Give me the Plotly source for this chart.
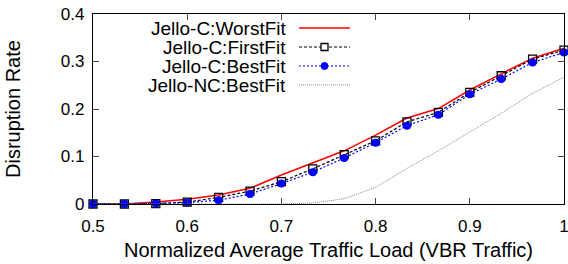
import plotly.graph_objects as go

load = [0.5 + i / 30 for i in range(16)]
worst_fit = [0, 0, 0.004, 0.010, 0.019, 0.033, 0.061, 0.086, 0.112, 0.145, 0.181, 0.201, 0.240, 0.274, 0.307, 0.328]
first_fit = [0, 0, 0.001, 0.004, 0.014, 0.027, 0.047, 0.074, 0.104, 0.133, 0.173, 0.193, 0.235, 0.270, 0.305, 0.324]
best_fit = [0, 0, 0.001, 0.003, 0.008, 0.021, 0.043, 0.067, 0.097, 0.129, 0.165, 0.188, 0.231, 0.263, 0.298, 0.319]
nc_best_fit = [0, 0, 0, 0, 0, 0, 0, 0.002, 0.011, 0.035, 0.075, 0.112, 0.152, 0.191, 0.233, 0.267]
names = ["Jello-C:WorstFit", "Jello-C:FirstFit", "Jello-C:BestFit", "Jello-NC:BestFit"]

FONT = "Liberation Sans, Arial, Helvetica, sans-serif"

fig = go.Figure()
fig.add_trace(go.Scatter(x=load, y=worst_fit, mode="lines", line=dict(color="#ff0000", width=1.5), name=names[0], cliponaxis=False))
fig.add_trace(go.Scatter(x=load, y=first_fit, mode="lines+markers", line=dict(color="black", width=1.2, dash="3px,2px"),
                         marker=dict(symbol="square-open", size=8, color="black", line=dict(width=1.3)), name=names[1], cliponaxis=False))
fig.add_trace(go.Scatter(x=load, y=best_fit, mode="lines+markers", line=dict(color="#0000ff", width=1.2, dash="2px,2px"),
                         marker=dict(symbol="circle", size=8, color="#0000ff"), name=names[2], cliponaxis=False))
fig.add_trace(go.Scatter(x=load, y=nc_best_fit, mode="lines", line=dict(color="#888888", width=1, dash="1px,1px"), name=names[3], cliponaxis=False))

# custom gnuplot-style legend (text left of sample)
styles = [
    dict(color="#ff0000", width=1.5, dash="solid"),
    dict(color="black", width=1.2, dash="3px,2px"),
    dict(color="#0000ff", width=1.2, dash="2px,2px"),
    dict(color="#888888", width=1, dash="1px,1px"),
]
row_y = [28, 47, 66, 85]
plot_top, plot_h = 14, 190
plot_left, plot_w = 93, 471
def px_x(p):
    return (p - plot_left) / plot_w
def px_y(p):
    return 1 - (p - plot_top) / plot_h
for name, st, ry in zip(names, styles, row_y):
    fig.add_annotation(x=px_x(288), y=px_y(ry), xref="paper", yref="paper", text=name, showarrow=False,
                       xanchor="right", yanchor="middle", font=dict(family=FONT, size=19, color="black"))
    fig.add_shape(type="line", xref="paper", yref="paper", x0=px_x(299), x1=px_x(350), y0=px_y(ry), y1=px_y(ry), line=st)
# legend markers
fig.add_shape(type="rect", xref="paper", yref="paper", x0=px_x(321), x1=px_x(328), y0=px_y(43.5), y1=px_y(50.5),
              line=dict(color="black", width=1.3), fillcolor="white")
fig.add_shape(type="circle", xref="paper", yref="paper", x0=px_x(321), x1=px_x(328), y0=px_y(62.5), y1=px_y(69.5),
              line=dict(color="#0000ff", width=1), fillcolor="#0000ff")

fig.update_layout(
    width=568, height=264,
    margin=dict(l=93, r=4, t=14, b=60),
    paper_bgcolor="white", plot_bgcolor="white",
    showlegend=False,
    font=dict(family=FONT, size=17, color="black"),
)
fig.update_xaxes(range=[0.5, 1.0], dtick=0.1, tick0=0.5, ticks="inside", ticklen=6, mirror="ticks",
                 showline=True, linecolor="black", linewidth=1.2, showgrid=False, zeroline=False,
                 automargin=False, tickfont=dict(size=17), ticklabelstandoff=6, ticklabeloverflow="allow",
                 title=dict(text="Normalized Average Traffic Load (VBR Traffic)", standoff=8))
fig.update_yaxes(range=[0, 0.4], dtick=0.1, ticks="inside", ticklen=6, mirror="ticks",
                 showline=True, linecolor="black", linewidth=1.2, showgrid=False, zeroline=False,
                 automargin=False, tickfont=dict(size=17), ticklabelstandoff=4, ticklabeloverflow="allow",
                 title=dict(text="Disruption Rate", standoff=34))

fig.write_html("out.html", config={"displayModeBar": False},
               post_script="document.body.style.margin='0';document.body.style.overflow='hidden';")
